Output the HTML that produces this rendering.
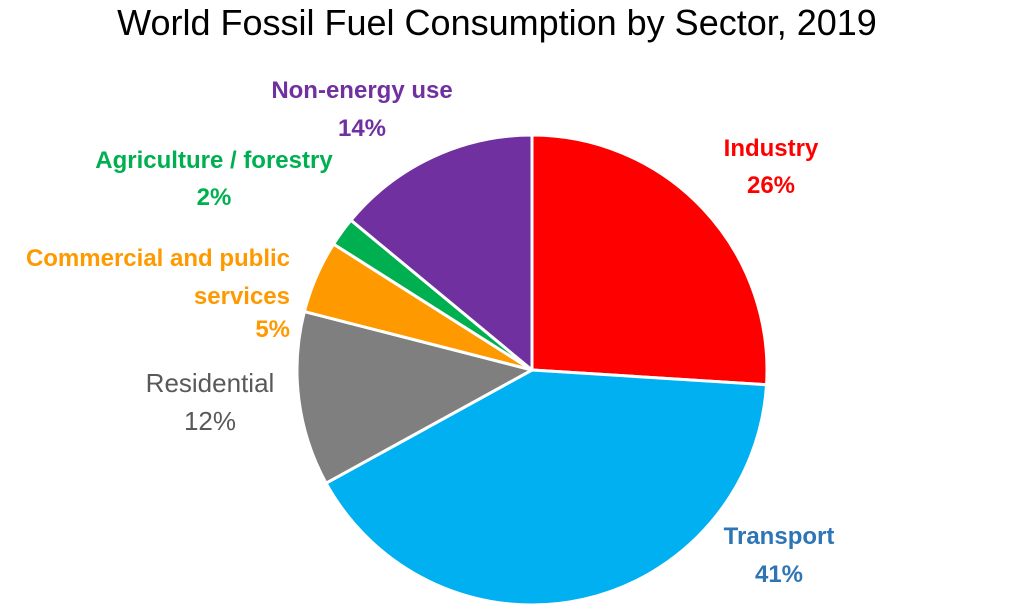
<!DOCTYPE html>
<html><head><meta charset="utf-8"><style>
body{margin:0;background:#fff;width:1022px;height:612px;overflow:hidden}
svg{display:block}
text{font-family:"Liberation Sans",sans-serif}
.lbl{font-size:24px;font-weight:bold}
.reg{font-size:26px;font-weight:normal}
</style></head><body>
<svg id="chart" width="1022" height="612">
<text x="497" y="35" text-anchor="middle" font-size="36" fill="#000">World Fossil Fuel Consumption by Sector, 2019</text>
<g id="slices"></g>
<g>
<text class="lbl" x="362" y="98" text-anchor="middle" fill="#7030A0">Non-energy use</text>
<text class="lbl" x="362" y="136" text-anchor="middle" fill="#7030A0">14%</text>
<text class="lbl" x="214" y="168" text-anchor="middle" fill="#00B050">Agriculture / forestry</text>
<text class="lbl" x="214" y="205" text-anchor="middle" fill="#00B050">2%</text>
<text class="lbl" x="290" y="266" text-anchor="end" fill="#FF9900">Commercial and public</text>
<text class="lbl" x="290" y="304" text-anchor="end" fill="#FF9900">services</text>
<text class="lbl" x="290" y="337" text-anchor="end" fill="#FF9900">5%</text>
<text class="reg" x="210" y="392" text-anchor="middle" fill="#595959">Residential</text>
<text class="reg" x="210" y="430" text-anchor="middle" fill="#595959">12%</text>
<text class="lbl" x="771" y="156" text-anchor="middle" fill="#FF0000">Industry</text>
<text class="lbl" x="771" y="193" text-anchor="middle" fill="#FF0000">26%</text>
<text class="lbl" x="779" y="544" text-anchor="middle" fill="#2E75B6">Transport</text>
<text class="lbl" x="779" y="582" text-anchor="middle" fill="#2E75B6">41%</text>
</g>
</svg>
<script>
const categories=["Industry","Transport","Residential","Commercial and public services","Agriculture / forestry","Non-energy use"];
const values=[26,41,12,5,2,14];
const colors=["#FF0000","#00B0F0","#7F7F7F","#FF9900","#00B050","#7030A0"];
const cx=532,cy=370,r=235;
const g=document.getElementById('slices');
const total=values.reduce((a,b)=>a+b,0);
let a0=0;
values.forEach((v,i)=>{
  const a1=a0+v/total*2*Math.PI;
  const x0=cx+r*Math.sin(a0),y0=cy-r*Math.cos(a0);
  const x1=cx+r*Math.sin(a1),y1=cy-r*Math.cos(a1);
  const large=(a1-a0)>Math.PI?1:0;
  const p=document.createElementNS('http://www.w3.org/2000/svg','path');
  p.setAttribute('d',`M${cx},${cy}L${x0},${y0}A${r},${r} 0 ${large} 1 ${x1},${y1}Z`);
  p.setAttribute('fill',colors[i]);
  p.setAttribute('stroke','#fff');
  p.setAttribute('stroke-width','3');
  p.setAttribute('stroke-linejoin','round');
  
  
  g.appendChild(p);
  a0=a1;
});
</script>
</body></html>
